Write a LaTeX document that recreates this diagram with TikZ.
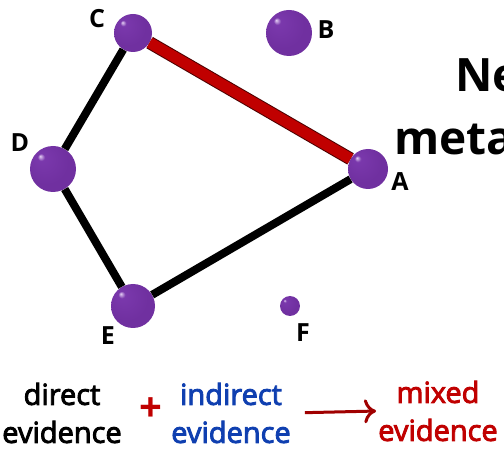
\documentclass[tikz,border=0pt]{standalone}
\usepackage{fontspec}
\setmainfont{Open Sans}
\newfontfamily\semibold[FakeBold=3]{Open Sans}
\usetikzlibrary{arrows.meta}
\definecolor{ballpurple}{HTML}{7030A0}
\definecolor{ballhigh}{HTML}{E6D2F5}
\definecolor{ballmid}{HTML}{7A38AC}
\definecolor{balledge}{HTML}{5A2282}
\definecolor{edgered}{HTML}{C00000}
\definecolor{arrred}{HTML}{A00000}
\definecolor{indblue}{HTML}{0F3FB0}
\pgfdeclareradialshading{sphere}{\pgfpoint{-14bp}{14bp}}{%
  color(0bp)=(ballhigh); color(4bp)=(ballmid); color(24bp)=(ballpurple);
  color(34bp)=(ballpurple); color(42bp)=(balledge); color(50bp)=(balledge)}
\tikzset{
  ball/.style={circle, shading=sphere, inner sep=0pt},
  lbl/.style={font=\fontsize{25}{25}\selectfont\bfseries, inner sep=0pt},
  evid/.style={align=center, inner sep=0pt, font=\fontsize{29}{38}\semibold},
  edge/.style={line width=8pt, black},
}
\begin{document}
\begin{tikzpicture}[x=1pt, y=-1pt]
	\useasboundingbox (0,0) rectangle (504,449);
	\clip (0,0) rectangle (504,449);
	% network
	\node[ball, minimum size=40pt] (A) at (368,169) {};
	\node[ball, minimum size=46pt] (B) at (289,33) {};
	\node[ball, minimum size=38pt] (C) at (133,33) {};
	\node[ball, minimum size=46pt] (D) at (53,169) {};
	\node[ball, minimum size=44pt] (E) at (133,306) {};
	\node[ball, minimum size=20pt] (F) at (290,306) {};
	\draw[edge] (C) -- (D);
	\draw[edge] (D) -- (E);
	\draw[edge] (E) -- (A);
	\draw[line width=13pt, black!70!red] (C) -- (A);
	\draw[line width=11pt, edgered] (C) -- (A);
	\node[lbl] (labA) at (400,182) {A};
	\node[lbl] (labB) at (326,30) {B};
	\node[lbl] (labC) at (97,19) {C};
	\node[lbl] (labD) at (20,143) {D};
	\node[lbl] (labE) at (108,336) {E};
	\node[lbl] (labF) at (303,333) {F};
	% title
	\node[anchor=base west, inner sep=0pt, font=\fontsize{46}{46}\selectfont\bfseries] (ttl1) at (455,92) {Ne};
	\node[anchor=base west, inner sep=0pt, font=\fontsize{46}{46}\selectfont\bfseries] (ttl2) at (394,155) {meta};
	% legend
	\node[evid] (dir) at (62,413) {direct\\evidence};
	\node[text=edgered, font=\fontsize{40}{40}\selectfont\bfseries, inner sep=0pt] (plus) at (151,410) {+};
	\node[evid, text=indblue] (ind) at (231,413) {indirect\\evidence};
	\node[evid, text=edgered] (mix) at (438,411) {mixed\\evidence};
	\draw[arrred, line width=3pt, -{To[length=12pt,width=24pt]}, shorten <=14pt, shorten >=2pt] (ind.east) -- (mix.west);
\end{tikzpicture}
\end{document}
